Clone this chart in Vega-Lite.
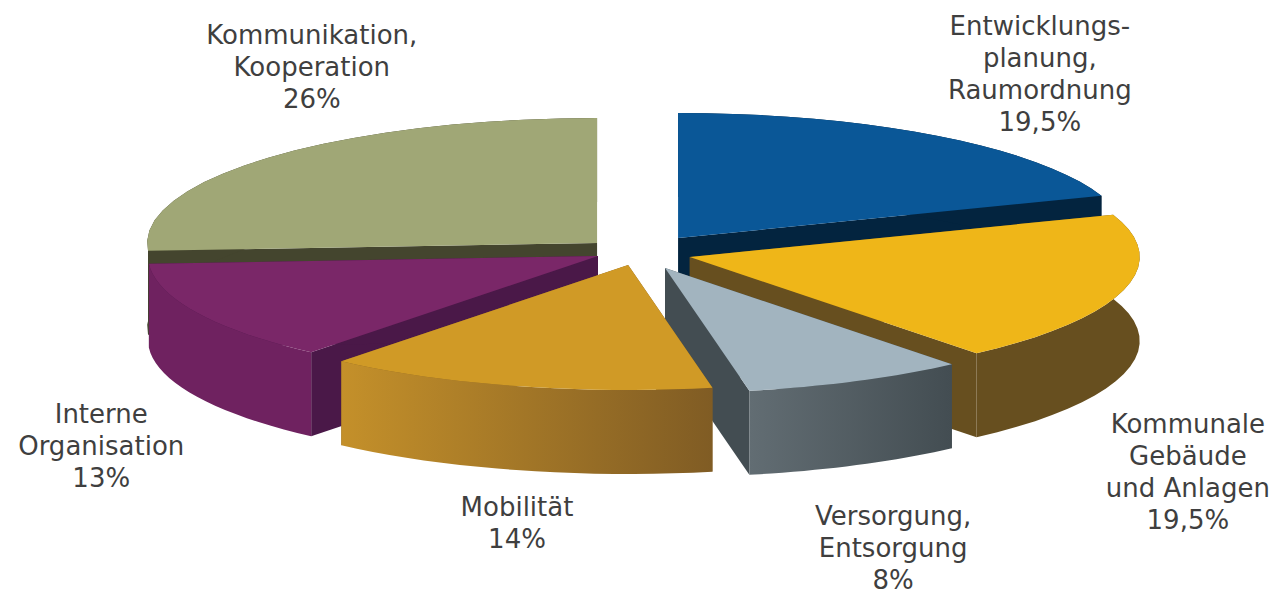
{
  "$schema": "https://vega.github.io/schema/vega-lite/v6.json",
  "description": "Exploded 3D pie of the six action fields. Rows are listed back to front so nearer slices paint over farther ones; n is the clockwise position. Each wedge outline is derived from its share on a unit circle, pulled out from the hub by its own explode offset, and the x and y scales flatten that circle into the tilted ellipse.",
  "width": 1272,
  "height": 594,
  "padding": 0,
  "autosize": {"type": "none"},
  "background": "white",
  "config": {"view": {"stroke": null}},
  "data": {
    "values": [
      {"n": 0, "name": "Entwicklung", "label": "Entwicklungs-\nplanung,\nRaumordnung", "share": 19.5},
      {"n": 5, "name": "Kommunikation", "label": "Kommunikation,\nKooperation", "share": 26},
      {"n": 1, "name": "Gebäude", "label": "Kommunale\nGebäude\nund Anlagen", "share": 19.5},
      {"n": 4, "name": "Organisation", "label": "Interne\nOrganisation", "share": 13},
      {"n": 2, "name": "Versorgung", "label": "Versorgung,\nEntsorgung", "share": 8},
      {"n": 3, "name": "Mobilität", "label": "Mobilität", "share": 14}
    ]
  },
  "transform": [
    {"window": [{"op": "sum", "field": "share", "as": "cum"}], "sort": [{"field": "n"}], "frame": [null, 0]},
    {"calculate": "2*PI*(datum.cum-datum.share)/100", "as": "a0"},
    {"calculate": "2*PI*datum.cum/100", "as": "a1"},
    {"calculate": "[0.078,0.104,0.049,-0.033,-0.1,-0.102][datum.n]", "as": "ax"},
    {"calculate": "[0.112,-0.04,-0.128,-0.104,-0.032,0.072][datum.n]", "as": "ay"},
    {"calculate": "['sideA','sideB','wall','top']", "as": "part"},
    {"flatten": ["part"]},
    {"calculate": "[0,1,2,3,4,5,6,7,8,9,10,11,12,13,14,15,16,17,18,19,20,21,22,23,24,25,26,27,28,29,30,31,32,33,34,35,36,37,38,39,40,41]", "as": "i"},
    {"flatten": ["i"]},
    {"filter": "datum.part=='wall' || (datum.part=='top' ? datum.i<=21 : datum.i<=3)"},
    {"calculate": "datum.part=='wall' ? (datum.i<=20 ? datum.i/20 : (41-datum.i)/20) : datum.part=='top' ? (datum.i-1)/20 : datum.part=='sideA' ? 0 : 1", "as": "f"},
    {"calculate": "datum.part=='wall' ? 1 : datum.part=='top' ? (datum.i==0 ? 0 : 1) : (datum.i<=1 ? 0 : 1)", "as": "r"},
    {"calculate": "datum.part=='wall' ? (datum.i>20 ? 1 : 0) : datum.part=='top' ? 0 : ((datum.i==1||datum.i==2) ? 1 : 0)", "as": "d"},
    {"calculate": "datum.a0+(datum.a1-datum.a0)*datum.f", "as": "theta"},
    {"calculate": "datum.ax+datum.r*sin(datum.theta)", "as": "px"},
    {"calculate": "datum.ay+datum.r*cos(datum.theta)-datum.d*0.672", "as": "py"},
    {"calculate": "datum.name+' '+datum.part", "as": "face"}
  ],
  "encoding": {
    "x": {"field": "px", "type": "quantitative", "axis": null, "scale": {"domain": [-1.429, 1.398], "nice": false, "zero": false}},
    "y": {"field": "py", "type": "quantitative", "axis": null, "scale": {"domain": [-2.736, 2.016], "nice": false, "zero": false}},
    "order": {"field": "i", "type": "quantitative"}
  },
  "layer": [
    {
      "transform": [{"filter": "!(datum.name=='Versorgung' && datum.part!='sideA' && datum.part!='sideB') && !(datum.name=='Mobilität')"}],
      "mark": {"type": "line", "interpolate": "linear-closed", "strokeWidth": 0, "tooltip": null},
      "encoding": {
        "fill": {
          "field": "face",
          "type": "nominal",
          "legend": null,
          "scale": {
            "domain": [
              "Entwicklung sideA", "Entwicklung sideB", "Entwicklung wall", "Entwicklung top",
              "Kommunikation sideA", "Kommunikation sideB", "Kommunikation wall", "Kommunikation top",
              "Gebäude sideA", "Gebäude sideB", "Gebäude wall", "Gebäude top",
              "Organisation sideA", "Organisation sideB", "Organisation wall", "Organisation top",
              "Versorgung sideA", "Versorgung sideB"
            ],
            "range": [
              "#03243f", "#03243f", "#03243f", "#0a5797",
              "#44452e", "#44452e", "#44452e", "#a0a776",
              "#674f1f", "#674f1f", "#674f1f", "#efb618",
              "#4a1848", "#4a1848", "#6f2260", "#7a2768",
              "#434d52", "#434d52"
            ]
          }
        }
      }
    },
    {
      "transform": [{"filter": "datum.face=='Versorgung wall'"}],
      "mark": {"type": "line", "interpolate": "linear-closed", "strokeWidth": 0, "tooltip": null,
        "fill": {"gradient": "linear", "x1": 0, "y1": 0, "x2": 1, "y2": 0, "stops": [{"offset": 0, "color": "#626d73"}, {"offset": 1, "color": "#434d52"}]}}
    },
    {
      "transform": [{"filter": "datum.face=='Versorgung top'"}],
      "mark": {"type": "line", "interpolate": "linear-closed", "strokeWidth": 0, "tooltip": null, "fill": "#a2b4bf"}
    },
    {
      "transform": [{"filter": "datum.face=='Mobilität sideA' || datum.face=='Mobilität sideB'"}],
      "mark": {"type": "line", "interpolate": "linear-closed", "strokeWidth": 0, "tooltip": null, "fill": "#805c24"},
      "encoding": {"detail": {"field": "part"}}
    },
    {
      "transform": [{"filter": "datum.face=='Mobilität wall'"}],
      "mark": {"type": "line", "interpolate": "linear-closed", "strokeWidth": 0, "tooltip": null,
        "fill": {"gradient": "linear", "x1": 0, "y1": 0, "x2": 1, "y2": 0, "stops": [{"offset": 0, "color": "#c4902a"}, {"offset": 1, "color": "#805c24"}]}}
    },
    {
      "transform": [{"filter": "datum.face=='Mobilität top'"}],
      "mark": {"type": "line", "interpolate": "linear-closed", "strokeWidth": 0, "tooltip": null, "fill": "#d09a26"}
    },
    {
      "transform": [
        {"filter": "datum.part=='top' && datum.i==0"},
        {"calculate": "[0.882,1.211,0.556,-0.28,-1.204,-0.736][datum.n]", "as": "lx"},
        {"calculate": "[1.8,-1.384,-2.12,-2.048,-1.304,1.728][datum.n]", "as": "ly"},
        {"calculate": "datum.label+'\\n'+replace(toString(datum.share),'.',',')+'%'", "as": "caption"}
      ],
      "mark": {"type": "text", "font": "DejaVu Sans", "fontSize": 26, "color": "#3f3f3f", "align": "center", "baseline": "middle", "lineBreak": "\n", "lineHeight": 32, "tooltip": null},
      "encoding": {
        "x": {"field": "lx", "type": "quantitative", "axis": null, "scale": {"domain": [-1.429, 1.398], "nice": false, "zero": false}},
        "y": {"field": "ly", "type": "quantitative", "axis": null, "scale": {"domain": [-2.736, 2.016], "nice": false, "zero": false}},
        "text": {"field": "caption", "type": "nominal"},
        "order": {"value": null}
      }
    }
  ]
}
